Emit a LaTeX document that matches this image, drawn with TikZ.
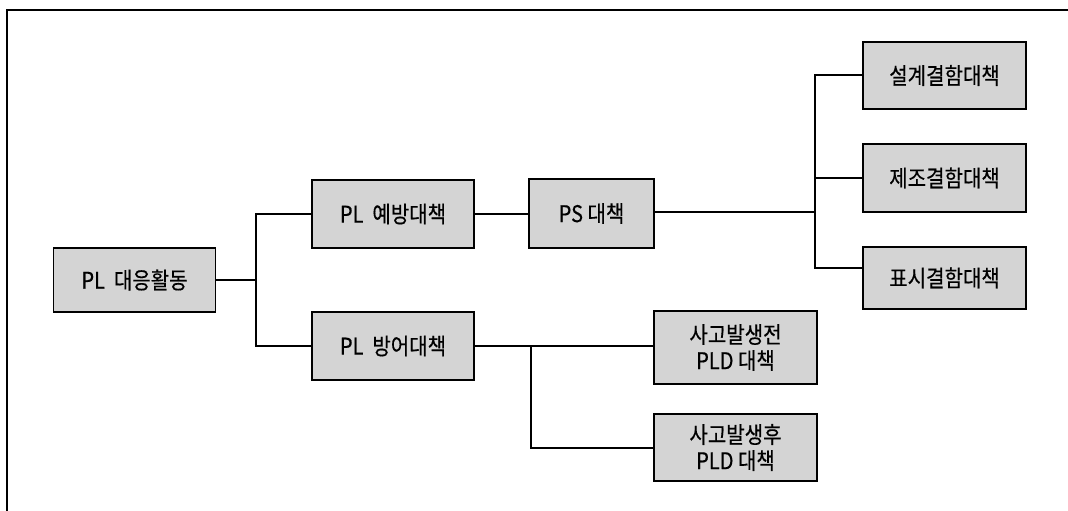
\documentclass[tikz,border=0pt]{standalone}
\usepackage{fontspec}
\setmainfont{Noto Sans CJK KR}[FakeStretch=0.87,FakeBold=0.4]
\begin{document}
\begin{tikzpicture}[x=1pt,y=-1pt,
  box/.style={draw=black,line width=1.3pt,fill=black!17,inner sep=0pt,
    font=\fontsize{23}{26}\selectfont,align=center},
  conn/.style={line width=1.2pt,black}]
\useasboundingbox (0,0) rectangle (1068,511);
\draw[line width=1.4pt] (7,511) -- (7,10) -- (1068,10);
% boxes
\node[box,minimum width=162pt,minimum height=64pt] (root) at (134.5,280) {PL\ \ 대응활동};
\node[box,minimum width=162pt,minimum height=68pt] (prev) at (393,214) {PL\ \ 예방대책};
\node[box,minimum width=162pt,minimum height=68pt] (def) at (393,346) {PL\ \ 방어대책};
\node[box,minimum width=125pt,minimum height=69pt] (ps) at (591.5,213.5) {PS 대책};
\node[box,minimum width=163pt,minimum height=67pt] (d1) at (944.5,75.5) {설계결함대책};
\node[box,minimum width=163pt,minimum height=68pt] (d2) at (944.5,178) {제조결함대책};
\node[box,minimum width=163pt,minimum height=62pt] (d3) at (944.5,278) {표시결함대책};
\node[box,minimum width=163pt,minimum height=73pt] (a1) at (735.5,347.5) {사고발생전\\PLD 대책};
\node[box,minimum width=163pt,minimum height=67pt] (a2) at (735.5,447.5) {사고발생후\\PLD 대책};
% junctions
\coordinate (j1) at (256,280);
\coordinate (j2) at (815,212);
\coordinate (j3) at (531,346);
% connectors
\draw[conn] (root.east) -- (j1);
\draw[conn] (prev.west) -| (j1) |- (def.west);
\draw[conn] (prev.east) -- (ps.west |- prev.east);
\draw[conn] (ps.east |- j2) -- (j2);
\draw[conn] (d1.west |- 0,75) -| (j2 |- 0,268) -- (d3.west |- 0,268);
\draw[conn] (j2 |- 0,178) -- (d2.west |- 0,178);
\draw[conn] (def.east) -- (a1.west |- def.east);
\draw[conn] (j3) |- (a2.west |- 0,448);
\end{tikzpicture}
\end{document}
